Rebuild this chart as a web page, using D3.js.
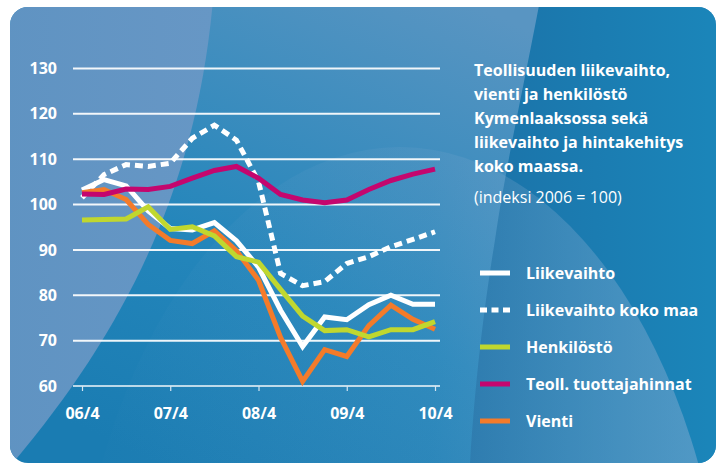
<!DOCTYPE html>
<html>
<head>
<meta charset="utf-8">
<script src="https://cdn.jsdelivr.net/npm/d3@7"></script>
<style>
  body { margin: 0; background: #fff; }
  svg { display: block; }
  text { font-family: "Open Sans", "Noto Sans", sans-serif; fill: #fff; }
</style>
</head>
<body>
<svg id="chart" width="721" height="464"></svg>
<script>
// quarters 06/4 ... 10/4
const quarters = d3.range(17);
const tickQuarters = [0, 4, 8, 12, 16];
const tickLabels = ["06/4", "07/4", "08/4", "09/4", "10/4"];
const yTicks = [60, 70, 80, 90, 100, 110, 120, 130];

const liikevaihto = [103.1, 105.4, 104.0, 98.5, 94.6, 94.3, 95.9, 91.9, 86.1, 76.6, 68.6, 75.1, 74.5, 77.8, 79.9, 77.9, 77.9];
const liikevaihtoKokoMaa = [101.4, 106.5, 108.7, 108.3, 109.0, 114.5, 117.4, 114.1, 105.0, 84.7, 82.0, 82.9, 86.9, 88.4, 90.6, 92.2, 93.9];
const henkilosto = [96.5, 96.6, 96.7, 99.4, 94.4, 95.0, 93.0, 88.4, 87.2, 81.2, 75.3, 72.1, 72.3, 70.7, 72.3, 72.3, 74.1];
const tuottajahinnat = [102.2, 102.1, 103.3, 103.2, 103.9, 105.7, 107.4, 108.3, 105.7, 102.1, 100.9, 100.3, 100.9, 103.2, 105.2, 106.6, 107.7];
const vienti = [102.5, 103.2, 101.0, 95.5, 92.0, 91.3, 94.1, 89.7, 83.2, 70.6, 60.9, 67.9, 66.4, 73.2, 77.7, 74.6, 72.4];

const seriesNames = ["Liikevaihto", "Liikevaihto koko maa", "Henkilöstö", "Teoll. tuottajahinnat", "Vienti"];
const seriesColors = ["#ffffff", "#ffffff", "#c0d72f", "#c4066e", "#f47b2a"];
const seriesValues = [liikevaihto, liikevaihtoKokoMaa, henkilosto, tuottajahinnat, vienti];
const seriesDashed = [false, true, false, false, false];

const titleLines = ["Teollisuuden liikevaihto,", "vienti ja henkilöstö", "Kymenlaaksossa sekä", "liikevaihto ja hintakehitys", "koko maassa."];
const subtitle = "(indeksi 2006 = 100)";

const svg = d3.select("#chart");
const defs = svg.append("defs");

// ---- background card ----
defs.append("clipPath").attr("id", "card")
  .append("rect").attr("x", 10).attr("y", 7).attr("width", 706).attr("height", 456).attr("rx", 18);

const gMid = defs.append("linearGradient").attr("id", "gMid")
  .attr("x1", 0.15).attr("y1", 0.95).attr("x2", 0.78).attr("y2", 0.1);
gMid.append("stop").attr("offset", 0).attr("stop-color", "#1a7cb2");
gMid.append("stop").attr("offset", 0.4).attr("stop-color", "#2486bb");
gMid.append("stop").attr("offset", 1).attr("stop-color", "#5995c2");

const gLeft = defs.append("linearGradient").attr("id", "gLeft")
  .attr("x1", 0).attr("y1", 0).attr("x2", 1).attr("y2", 0);
gLeft.append("stop").attr("offset", 0).attr("stop-color", "#5f93c2");
gLeft.append("stop").attr("offset", 1).attr("stop-color", "#6797c5");

const gRight = defs.append("linearGradient").attr("id", "gRight")
  .attr("x1", 0).attr("y1", 0).attr("x2", 1).attr("y2", 0);
gRight.append("stop").attr("offset", 0).attr("stop-color", "#1b72a8");
gRight.append("stop").attr("offset", 1).attr("stop-color", "#1b86ba");

const gCircle = defs.append("linearGradient").attr("id", "gCircle")
  .attr("x1", 0).attr("y1", 0).attr("x2", 1).attr("y2", 0);
gCircle.append("stop").attr("offset", 0).attr("stop-color", "#8fb0d4").attr("stop-opacity", 0);
gCircle.append("stop").attr("offset", 0.55).attr("stop-color", "#8fb0d4").attr("stop-opacity", 0.12);
gCircle.append("stop").attr("offset", 1).attr("stop-color", "#8fb0d4").attr("stop-opacity", 0.5);

const bg = svg.append("g").attr("clip-path", "url(#card)");
bg.append("rect").attr("x", 0).attr("y", 0).attr("width", 721).attr("height", 464).attr("fill", "url(#gMid)");
// dark band at right
bg.append("path")
  .attr("d", "M540,0 L721,0 L721,464 L470,464 C475,380 485,300 495,240 C505,170 525,80 540,0 Z")
  .attr("fill", "url(#gRight)");
// big light ellipse
bg.append("ellipse").attr("cx", 400).attr("cy", 700).attr("rx", 330).attr("ry", 553)
  .attr("fill", "url(#gCircle)");
// light area at left
bg.append("path")
  .attr("d", "M0,0 L213,0 C196,190 125,330 12,464 L0,464 Z")
  .attr("fill", "url(#gLeft)");

// ---- scales ----
const x = d3.scaleLinear().domain([0, 16]).range([82, 435]);
const y = d3.scaleLinear().domain([60, 130]).range([385.5, 68]);

// y axis with gridlines
const yAxis = svg.append("g").attr("transform", "translate(73,0)")
  .call(d3.axisLeft(y).tickValues(yTicks).tickSize(-(440 - 73)).tickPadding(16));
yAxis.select(".domain").remove();
yAxis.selectAll(".tick line").attr("stroke", "#ffffff").attr("stroke-width", 2)
  .attr("opacity", d => d === 60 ? 0.7 : 0.92);
yAxis.selectAll(".tick text").attr("fill", "#fff").attr("font-size", 16).attr("font-weight", 700)
  .attr("font-family", "Open Sans").attr("dy", "0.35em");

// x axis ticks
const xAxis = svg.append("g").attr("transform", "translate(0,386)")
  .call(d3.axisBottom(x).tickValues(tickQuarters).tickFormat((d, i) => tickLabels[i]).tickSize(5).tickPadding(17));
xAxis.select(".domain").remove();
xAxis.selectAll(".tick line").attr("stroke", "#d6e6f2").attr("stroke-width", 1.2);
xAxis.selectAll(".tick text").attr("fill", "#fff").attr("font-size", 16).attr("font-weight", 700)
  .attr("font-family", "Open Sans");

// ---- lines ----
const line = d3.line().x((d, i) => x(quarters[i])).y(d => y(d));
const drawOrder = [1, 0, 4, 2, 3];
drawOrder.forEach(k => {
  svg.append("path")
    .datum(seriesValues[k])
    .attr("fill", "none")
    .attr("stroke", seriesColors[k])
    .attr("stroke-width", 5)
    .attr("stroke-linejoin", "miter")
    .attr("stroke-dasharray", seriesDashed[k] ? "8,5" : null)
    .attr("d", line);
});

// ---- title ----
const title = svg.append("text").attr("x", 474).attr("y", 76)
  .attr("font-size", 16).attr("font-weight", 700);
titleLines.forEach((t, i) => {
  title.append("tspan").attr("x", 474).attr("dy", i === 0 ? 0 : 24).text(t);
});
svg.append("text").attr("x", 474).attr("y", 203).attr("font-size", 16).text(subtitle);

// ---- legend ----
const legendY = d3.scalePoint().domain(seriesNames).range([273, 421]);
const legend = svg.append("g");
seriesNames.forEach((name, k) => {
  const cy = legendY(name);
  legend.append("line")
    .attr("x1", 480).attr("x2", 510).attr("y1", cy).attr("y2", cy)
    .attr("stroke", seriesColors[k]).attr("stroke-width", 5)
    .attr("stroke-dasharray", seriesDashed[k] ? "7,4.5" : null);
  legend.append("text").attr("x", 526).attr("y", cy).attr("dy", "0.35em")
    .attr("font-size", 16).attr("font-weight", 700).text(name);
});
</script>
</body>
</html>
